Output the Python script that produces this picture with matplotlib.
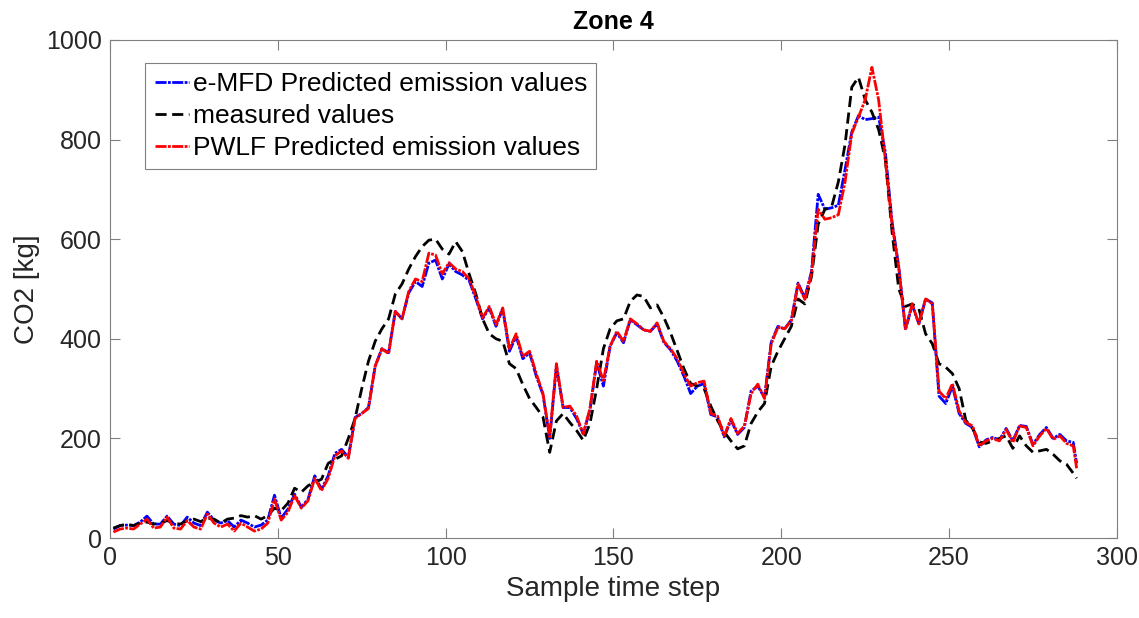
import numpy as np
import matplotlib.pyplot as plt

plt.rcParams['font.family'] = ['Liberation Sans', 'DejaVu Sans']

# sample index (every second step, plus the last one)
t = np.r_[np.arange(1, 288, 2), 288]

emfd = [18, 25, 26, 25, 32, 44, 28, 28, 44, 28, 25, 42, 30, 25, 52, 36, 30, 35, 22, 36,
        30, 22, 26, 36, 86, 40, 58, 88, 62, 78, 125, 98, 125, 170, 178, 162, 242, 250, 262, 345,
        380, 372, 455, 440, 492, 515, 505, 552, 558, 520, 550, 535, 528, 517, 480, 440, 462, 425, 460, 375,
        405, 360, 372, 325, 288, 200, 345, 262, 262, 240, 209, 258, 352, 305, 385, 412, 392, 438, 428, 418,
        415, 430, 393, 378, 355, 325, 290, 305, 310, 248, 243, 203, 237, 208, 222, 295, 305, 282, 393, 425,
        420, 438, 512, 482, 535, 690, 660, 663, 668, 740, 815, 848, 840, 842, 845, 775, 635, 545, 418, 468,
        430, 480, 472, 285, 270, 305, 250, 230, 222, 183, 197, 202, 197, 220, 195, 226, 224, 188, 208, 222,
        200, 208, 195, 192, 150]

measured = [20, 25, 28, 25, 30, 32, 28, 30, 35, 30, 28, 35, 38, 33, 40, 38, 30, 38, 40, 45,
            42, 45, 38, 45, 60, 55, 70, 100, 92, 105, 112, 118, 150, 158, 165, 200, 240, 300, 355, 395,
            420, 440, 490, 510, 540, 565, 585, 598, 600, 580, 570, 595, 575, 530, 490, 440, 410, 400, 395, 350,
            340, 308, 280, 262, 243, 172, 235, 250, 232, 216, 196, 230, 300, 380, 420, 436, 440, 475, 488, 485,
            462, 468, 443, 412, 376, 340, 310, 305, 300, 265, 236, 213, 195, 179, 185, 230, 253, 270, 345, 375,
            400, 425, 480, 470, 525, 630, 660, 665, 715, 790, 905, 925, 880, 855, 820, 760, 615, 500, 465, 470,
            460, 410, 390, 350, 343, 330, 300, 236, 220, 193, 190, 195, 200, 205, 180, 205, 185, 172, 175, 178,
            168, 155, 148, 130, 120]

pwlf = [12, 18, 20, 18, 28, 38, 20, 22, 42, 20, 18, 35, 22, 18, 48, 30, 22, 28, 14, 30,
        22, 14, 18, 30, 78, 36, 52, 85, 60, 75, 120, 95, 120, 165, 175, 160, 240, 250, 260, 345,
        380, 370, 455, 440, 495, 520, 515, 572, 568, 530, 553, 540, 535, 520, 485, 442, 465, 428, 462, 380,
        410, 365, 375, 330, 290, 203, 350, 262, 265, 245, 209, 260, 355, 316, 385, 415, 395, 440, 430, 418,
        415, 432, 395, 380, 360, 330, 305, 312, 315, 250, 245, 205, 240, 210, 225, 290, 309, 280, 390, 423,
        420, 436, 510, 479, 530, 660, 640, 643, 649, 715, 812, 845, 880, 945, 880, 760, 630, 543, 420, 470,
        430, 480, 470, 295, 280, 310, 255, 232, 225, 185, 195, 200, 195, 218, 192, 225, 222, 185, 205, 220,
        198, 205, 190, 185, 140]

fig = plt.figure(figsize=(11.39, 6.18), dpi=100)
ax = fig.add_axes([0.0966, 0.1294, 0.884, 0.806])

lw = 2.0
dashdot = (0, (4, 0.5, 1, 0.5))
ax.plot(t, emfd, color='blue', lw=lw, ls=dashdot, label='e-MFD Predicted emission values')
ax.plot(t, measured, color='black', lw=lw, ls=(0, (4, 2)), label='measured values')
ax.plot(t, pwlf, color='red', lw=lw, ls=dashdot, label='PWLF Predicted emission values')

ax.set_xlim(0, 300)
ax.set_ylim(0, 1000)
ax.set_xticks(np.arange(0, 301, 50))
ax.set_yticks(np.arange(0, 1001, 200))

grey = '#262626'
for s in ax.spines.values():
    s.set_color('#808080')
    s.set_linewidth(0.8)
ax.tick_params(direction='in', length=7, width=0.8, color='#808080',
               labelsize=18, labelcolor=grey, top=True, right=True, pad=6)

ax.set_xlabel('Sample time step', fontsize=20, color=grey)
ax.set_ylabel('CO2 [kg]', fontsize=20, color=grey)
ax.set_title('Zone 4', fontsize=18, fontweight='bold', color='black', pad=8)

leg = ax.legend(loc='upper left', bbox_to_anchor=(0.035, 0.954), borderaxespad=0,
                fontsize=19, handlelength=1.3, handletextpad=0.15, labelspacing=0.3,
                borderpad=0.35, fancybox=False, framealpha=1)
leg.get_frame().set_edgecolor('#808080')
leg.get_frame().set_linewidth(0.8)

fig.savefig('out.png', dpi=100)
